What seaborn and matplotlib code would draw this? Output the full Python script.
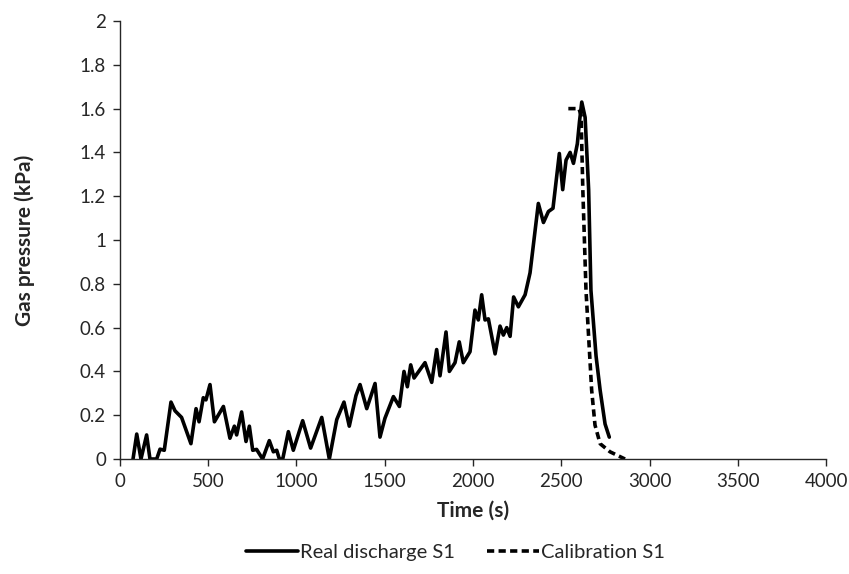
import numpy as np
import pandas as pd
import matplotlib
matplotlib.use("Agg")
import matplotlib.pyplot as plt
from matplotlib.ticker import FuncFormatter
import seaborn as sns

# Measured gas pressure during the real discharge (time in s, pressure in kPa)
real_time = [74, 95, 119, 151, 170, 208, 227, 251, 289, 312, 349, 402, 431, 448,
             472, 487, 510, 535, 586, 623, 648, 661, 689, 714, 733, 752, 774, 808,
             846, 869, 888, 903, 922, 954, 982, 1035, 1080, 1143, 1186, 1228, 1269,
             1299, 1337, 1360, 1398, 1445, 1473, 1501, 1549, 1583, 1609, 1628, 1647,
             1666, 1728, 1766, 1794, 1813, 1847, 1866, 1898, 1922, 1945, 1983, 2011,
             2030, 2049, 2068, 2087, 2125, 2153, 2172, 2191, 2210, 2230, 2257, 2295,
             2323, 2370, 2399, 2427, 2453, 2489, 2508, 2527, 2550, 2569, 2591, 2603,
             2616, 2635, 2655, 2668, 2697, 2720, 2748, 2772]
real_pressure = [0.0, 0.114, 0.0, 0.11, 0.0, 0.0, 0.045, 0.04, 0.26, 0.22, 0.19, 0.07,
                 0.23, 0.17, 0.28, 0.27, 0.34, 0.17, 0.24, 0.095, 0.15, 0.11, 0.215,
                 0.08, 0.15, 0.04, 0.044, 0.0, 0.084, 0.033, 0.04, 0.0, 0.0, 0.125,
                 0.04, 0.175, 0.05, 0.19, 0.0, 0.18, 0.26, 0.15, 0.29, 0.34, 0.23,
                 0.345, 0.10, 0.186, 0.285, 0.24, 0.40, 0.33, 0.43, 0.37, 0.44, 0.35,
                 0.50, 0.38, 0.58, 0.40, 0.44, 0.535, 0.44, 0.49, 0.68, 0.635, 0.75,
                 0.635, 0.64, 0.48, 0.607, 0.566, 0.60, 0.56, 0.74, 0.695, 0.75, 0.85,
                 1.167, 1.08, 1.13, 1.145, 1.395, 1.23, 1.365, 1.40, 1.35, 1.44, 1.54,
                 1.63, 1.56, 1.23, 0.77, 0.47, 0.315, 0.16, 0.10]

# Calibrated model response
calib_time = [2540, 2600, 2612, 2622, 2640, 2672, 2691, 2720, 2776, 2861]
calib_pressure = [1.60, 1.60, 1.57, 1.23, 0.77, 0.315, 0.155, 0.07, 0.033, 0.0]

real_df = pd.DataFrame({"Time (s)": real_time, "Gas pressure (kPa)": real_pressure})
calib_df = pd.DataFrame({"Time (s)": calib_time, "Gas pressure (kPa)": calib_pressure})

sns.set_style("white")
plt.rcParams["font.family"] = ["Lato", "DejaVu Sans"]

fig = plt.figure(figsize=(8.49, 5.74), dpi=100)
ax = fig.add_axes([0.1413, 0.2003, 0.8317, 0.7631])

line_kw = dict(color="black", linewidth=2.6, sort=False, estimator=None)
sns.lineplot(data=real_df, x="Time (s)", y="Gas pressure (kPa)", ax=ax,
             label="Real discharge S1", **line_kw)
sns.lineplot(data=calib_df, x="Time (s)", y="Gas pressure (kPa)", ax=ax,
             linestyle=(0, (2.0, 1.2)), label="Calibration S1", **line_kw)
for ln in ax.lines:
    ln.set_solid_joinstyle("round")
    ln.set_solid_capstyle("round")

ax.set_xlim(0, 4000)
ax.set_ylim(0, 2)
ax.set_xticks(np.arange(0, 4001, 500))
ax.set_yticks(np.arange(0, 2.01, 0.2))
ax.yaxis.set_major_formatter(FuncFormatter(lambda v, p: f"{v:g}"))

for side in ("top", "right"):
    ax.spines[side].set_visible(False)
for side in ("left", "bottom"):
    ax.spines[side].set_color("#262626")
    ax.spines[side].set_linewidth(1.0)
ax.tick_params(axis="both", which="major", direction="out", length=5, width=1,
               color="#262626", labelsize=13.5, labelcolor="#262626", pad=5,
               left=True, bottom=True)

ax.set_xlabel("Time (s)", fontsize=15, fontweight="bold", labelpad=8)
ax.set_ylabel("Gas pressure (kPa)", fontsize=15, fontweight="bold", labelpad=32)

ax.legend(loc="upper center", bbox_to_anchor=(0.475, -0.152), ncol=2, frameon=False,
          fontsize=14.5, handlelength=2.6, handletextpad=0.1, columnspacing=1.6)

fig.savefig("out.png", dpi=100)
